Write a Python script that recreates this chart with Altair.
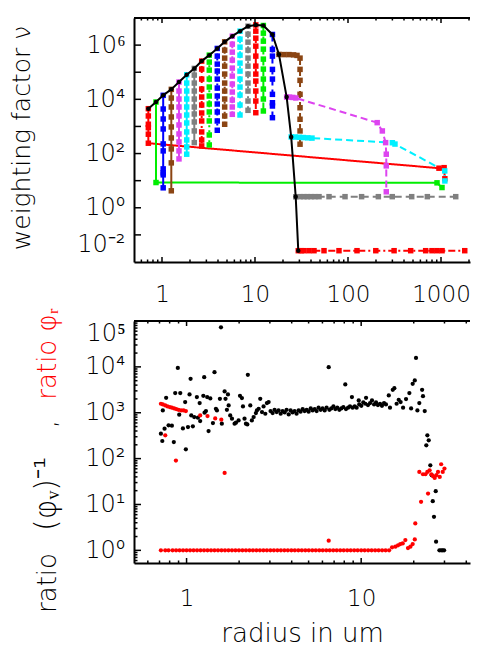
import altair as alt
import pandas as pd

FONT = "DejaVu Sans"
WEIGHT = 200

# ================= top panel: weighting factor (log10 values) =================
column_radius = [0.713, 0.862, 1.03, 1.259, 1.523, 1.844, 2.225, 2.672, 3.225, 3.93,
                 4.72, 5.70, 6.90, 8.41, 10.2, 12.3, 15.4]
w00 = [3.655, 3.386, 3.081, 2.955, 2.713, 2.381]
w01 = [3.901, 0.931]
w02 = [4.148, 3.643, 3.275, 2.907, 2.355, 2.098, 1.435, 1.288, 1.214, 0.736]
w03 = [4.368, 4.048, 3.717, 3.349, 2.981, 2.576, 2.171, 1.656, 0.626]
w04 = [4.637, 4.306, 4.011, 3.717, 3.386, 3.054, 2.723, 2.429, 2.098, 1.803]
w05 = [4.905, 4.6, 4.306, 4.011, 3.717, 3.422, 3.128, 2.797, 2.502, 2.245, 1.976]
w06 = [5.141, 4.894, 4.6, 4.306, 4.011, 3.717, 3.459, 3.165, 2.834, 2.403]
w07 = [5.41, 5.115, 4.747, 4.379, 4.085, 3.79, 3.496, 3.202, 2.797, 2.502, 2.282]
w08 = [5.63, 5.373, 5.078, 4.747, 4.453, 4.122, 3.827, 3.533, 3.202, 2.686, 2.318]
w09 = [5.877, 5.594, 5.299, 5.042, 4.747, 4.416, 4.122, 3.827, 3.533, 3.202, 2.859]
w10 = [6.12, 5.814, 5.52, 5.225, 4.931, 4.6, 4.306, 4.011, 3.717, 3.386, 3.08]
w11 = [6.33, 6.035, 5.741, 5.446, 5.152, 4.858, 4.563, 4.269, 3.974, 3.717, 3.448]
w12 = [6.514, 6.219, 5.925, 5.63, 5.336, 5.042, 4.747, 4.453, 4.158, 3.79, 3.422]
w13 = [6.698, 6.403, 6.109, 5.814, 5.52, 5.225, 4.931, 4.6, 4.306, 3.938, 3.595]
w14 = [6.745, 6.514, 6.256, 5.962, 5.594, 5.225, 4.931, 4.674, 4.306, 3.938, 3.507]
w15 = [6.723, 6.44, 6.146, 5.851, 5.483, 5.115, 4.747, 4.379, 4.011, 3.57]
w16 = [6.392, 5.84, 5.594, 5.104, 4.747, 4.184, 3.875, 3.754, 3.323]

tail00_radius = [951, 1080, 1100]
tail00_w = [1.46, 1.48, 1.07]
tail01_radius = [906, 1025]
tail01_w = [0.92, 0.747]

s17_radius = [18.1, 20.5, 23.2, 26.0, 28.3, 30.5, 30.5, 30.5, 30.5, 30.5, 30.5, 30.5, 30.5]
s17_w = [5.657, 5.65, 5.65, 5.64, 5.62, 5.52, 5.105, 4.70, 4.185, 3.69, 3.265, 2.834, 2.345]
s18_radius = [21.9, 23.5, 25.5, 27.5, 206, 234, 254, 258, 258, 258]
s18_w = [4.085, 4.08, 4.07, 4.05, 3.14, 2.834, 2.403, 1.976, 1.546, 0.589]
s19_radius = [24.5, 27, 30, 33, 37, 41, 300, 320, 1097, 1100]
s19_w = [2.613, 2.61, 2.60, 2.59, 2.58, 2.57, 2.40, 2.35, 1.36, 0.99]
s20_radius = [27.4, 30.5, 33.6, 36.5, 40, 44, 48.8, 62.5, 92.9, 140, 212, 299, 484, 713, 1440]
s20_w = [0.405, 0.41, 0.41, 0.41, 0.41, 0.41, 0.41, 0.41, 0.41, 0.41, 0.41, 0.41, 0.41, 0.41, 0.41]
s21_radius = [29.2, 31.4, 33.6, 38.1, 43.1, 55.2, 80, 125, 199, 313, 472, 684, 800, 906, 1026, 1800]
s21_w = [-1.583, -1.583, -1.583, -1.583, -1.583, -1.583, -1.583, -1.583, -1.583, -1.583,
         -1.583, -1.583, -1.583, -1.583, -1.583, -1.583]

envelope_radius = [0.713, 0.862, 1.03, 1.259, 1.523, 1.844, 2.225, 2.672, 3.225, 3.93, 4.72,
                   5.70, 6.90, 8.41, 10.2, 12.3, 15.4, 18.1, 21.9, 24.5, 27.4, 29.2]
envelope_w = [3.655, 3.901, 4.148, 4.368, 4.637, 4.905, 5.141, 5.41, 5.63, 5.877, 6.12,
              6.33, 6.514, 6.698, 6.745, 6.723, 6.392, 5.657, 4.085, 2.613, 0.405, -1.583]

series_colors = ["#ff0000", "#00ee00", "#0000ff", "#8b4513", "#dd44f0", "#00f0ff", "#808080"]
dash_styles = [[1, 0], [2, 3], [7, 4], [7, 3, 2, 3]]

# ================= bottom panel: ratios (log10 radius, log10 ratio) =================
black_points = [
    (-0.147, 2.543), (-0.139, 2.384), (-0.136, 3.051), (-0.126, 2.652), (-0.117, 3.326),
    (-0.103, 2.725), (-0.084, 2.717), (-0.073, 2.362), (-0.065, 3.428), (-0.050, 3.978),
    (-0.042, 2.957), (-0.036, 3.428), (-0.021, 2.659), (-0.008, 3.232), (-0.004, 2.203),
    (0.008, 2.688), (0.017, 3.399), (0.023, 3.739), (0.027, 2.942), (0.036, 2.703),
    (0.044, 2.906), (0.059, 3.341), (0.065, 2.891), (0.075, 3.210), (0.078, 2.819),
    (0.096, 3.370), (0.101, 3.775), (0.103, 3.000), (0.111, 3.036), (0.118, 3.341),
    (0.126, 2.601), (0.136, 3.312), (0.151, 2.775), (0.160, 3.884), (0.168, 3.087),
    (0.174, 3.051), (0.191, 3.304), (0.197, 4.862), (0.202, 2.761), (0.218, 3.464),
    (0.223, 3.304), (0.231, 3.065), (0.237, 3.399), (0.241, 3.159), (0.250, 2.942),
    (0.260, 2.870), (0.275, 2.761), (0.283, 2.783), (0.298, 2.833), (0.306, 3.370),
    (0.317, 3.319), (0.323, 3.138), (0.332, 2.870), (0.340, 2.761), (0.348, 2.746),
    (0.351, 3.826), (0.365, 3.159), (0.374, 2.833), (0.384, 2.906), (0.397, 2.993),
    (0.403, 3.051), (0.413, 3.087), (0.422, 3.304), (0.432, 3.014), (0.441, 3.138),
    (0.451, 2.978), (0.460, 3.210), (0.470, 3.232),
    (0.481, 3.036), (0.493, 2.993), (0.504, 3.065), (0.516, 3.014), (0.527, 3.051),
    (0.539, 2.978), (0.550, 3.036), (0.562, 3.007), (0.573, 3.065), (0.585, 2.964),
    (0.596, 3.051), (0.607, 3.007), (0.619, 3.036), (0.630, 2.978), (0.642, 3.051),
    (0.653, 3.022), (0.665, 3.080), (0.676, 3.036), (0.688, 3.065), (0.699, 3.022),
    (0.711, 3.094), (0.722, 3.051), (0.734, 3.080), (0.745, 3.036), (0.756, 3.109),
    (0.768, 3.065), (0.779, 3.094), (0.791, 3.051), (0.802, 3.109), (0.814, 3.993),
    (0.818, 3.065), (0.829, 3.094), (0.841, 3.138), (0.852, 3.080), (0.863, 3.109),
    (0.875, 3.065), (0.886, 3.094), (0.898, 3.123), (0.909, 3.616), (0.913, 3.080),
    (0.925, 3.109), (0.936, 3.138), (0.947, 3.341), (0.951, 3.109), (0.963, 3.138),
    (0.974, 3.109), (0.986, 3.268), (0.989, 3.181), (1.001, 3.152), (1.012, 3.225),
    (1.024, 3.196), (1.028, 3.326), (1.039, 3.167), (1.051, 3.210), (1.062, 3.268),
    (1.074, 3.181), (1.085, 3.225), (1.096, 3.167), (1.108, 3.196), (1.119, 3.152),
    (1.131, 3.210), (1.142, 3.181), (1.158, 3.377), (1.165, 3.109), (1.181, 3.500),
    (1.190, 3.536), (1.203, 3.196), (1.215, 3.283), (1.226, 3.232), (1.240, 3.109),
    (1.257, 3.297), (1.276, 3.428), (1.286, 3.094), (1.295, 3.630), (1.307, 3.703),
    (1.314, 4.196), (1.322, 3.051), (1.333, 3.210), (1.349, 3.500), (1.354, 3.362),
    (1.364, 3.036), (1.373, 2.290), (1.379, 2.507), (1.387, 2.399), (1.396, 1.855),
    (1.404, 1.638), (1.410, 1.072), (1.417, 0.732), (1.427, 1.290), (1.429, 0.188),
    (1.448, 0.0), (1.458, 0.0), (1.467, 0.0), (1.475, 0.0),
]
red_points = [
    (-0.147, 3.196), (-0.136, 3.181), (-0.122, 3.159), (-0.109, 3.138), (-0.096, 3.123),
    (-0.084, 3.109), (-0.071, 3.094), (-0.059, 3.080), (-0.046, 3.065), (-0.031, 3.051),
    (-0.017, 3.051), (-0.004, 3.036),
    (-0.122, 2.507), (-0.061, 1.957), (0.078, 2.942), (0.120, 2.928), (0.164, 2.877),
    (0.199, 2.848), (0.218, 1.688), (0.814, 0.210),
    (1.177, 0.065), (1.196, 0.080), (1.211, 0.109), (1.224, 0.138), (1.238, 0.152),
    (1.253, 0.225), (1.268, 0.051), (1.282, 0.080), (1.295, 0.138), (1.307, 0.239),
    (1.310, 0.587), (1.333, 1.710), (1.343, 1.058), (1.354, 1.659), (1.368, 1.659),
    (1.379, 1.710), (1.383, 1.239), (1.392, 1.746), (1.402, 1.659), (1.412, 1.616),
    (1.421, 1.580), (1.431, 1.638), (1.440, 1.710), (1.450, 1.601), (1.458, 1.877),
    (1.467, 1.710), (1.477, 1.783),
]
red_row_log_radius = [-0.147, -0.122, -0.103, -0.08, -0.06, -0.04, -0.02, 0.0, 0.02, 0.04,
                      0.06, 0.08, 0.10, 0.12, 0.14, 0.16, 0.18, 0.20, 0.22, 0.24, 0.26, 0.28,
                      0.30, 0.32, 0.34, 0.36, 0.38, 0.40, 0.42, 0.44, 0.46, 0.48, 0.50, 0.52,
                      0.54, 0.56, 0.58, 0.60, 0.62, 0.64, 0.66, 0.68, 0.70, 0.72, 0.74, 0.76,
                      0.78, 0.80, 0.82, 0.84, 0.86, 0.88, 0.90, 0.92, 0.94, 0.96, 0.98, 1.00,
                      1.02, 1.04, 1.06, 1.08, 1.10, 1.12, 1.14, 1.16]

# axis tick positions
top_x_labels = [1, 10, 100, 1000]
top_x_minor = [0.6, 0.7, 0.8, 0.9, 2, 3, 4, 5, 6, 7, 8, 9, 20, 30, 40, 50, 60, 70, 80, 90,
               200, 300, 400, 500, 600, 700, 800, 900, 2000]
top_y_labels = [0.01, 1, 100, 1e4, 1e6]
top_y_major = [0.1, 1, 10, 100, 1e3, 1e4, 1e5, 1e6]
bot_x_labels = [1, 10]
bot_x_minor = [0.6, 0.7, 0.8, 0.9, 2, 3, 4, 5, 6, 7, 8, 9, 20, 30, 40]
bot_y_labels = [1, 10, 100, 1e3, 1e4, 1e5]
bot_y_minor = [0.6, 0.7, 0.8, 0.9] + [m * d for d in (1, 10, 100, 1e3, 1e4) for m in range(2, 10)]

# ================= build tables =================
W, H1, H2 = 336, 244, 242
columns = [w00, w01, w02, w03, w04, w05, w06, w07, w08, w09, w10, w11, w12, w13, w14, w15, w16]
tails = {0: (tail00_radius, tail00_w), 1: (tail01_radius, tail01_w)}
horizontals = [(s17_radius, s17_w), (s18_radius, s18_w), (s19_radius, s19_w),
               (s20_radius, s20_w), (s21_radius, s21_w)]

rows = []
for i, wl in enumerate(columns):
    rr = [column_radius[i]] * len(wl)
    ww = list(wl)
    if i in tails:
        rr = rr + tails[i][0]
        ww = ww + tails[i][1]
    for k, (r, w) in enumerate(zip(rr, ww)):
        rows.append({"sid": f"s{i:02d}", "r": r, "w": 10 ** w, "k": k})
for j, (rr, ww) in enumerate(horizontals):
    for k, (r, w) in enumerate(zip(rr, ww)):
        rows.append({"sid": f"s{17 + j:02d}", "r": r, "w": 10 ** w, "k": k})
top_df = pd.DataFrame(rows)
env_df = pd.DataFrame({"r": envelope_radius, "w": [10 ** w for w in envelope_w],
                       "k": list(range(len(envelope_radius)))})

sids = [f"s{i:02d}" for i in range(22)]
colors = [series_colors[i % 7] for i in range(22)]
dashes = [dash_styles[i // 7] for i in range(22)]

black_df = pd.DataFrame({"r": [10 ** a for a, b in black_points], "v": [10 ** b for a, b in black_points]})
red_df = pd.DataFrame({"r": [10 ** a for a, b in red_points] + [10 ** a for a in red_row_log_radius],
                       "v": [10 ** b for a, b in red_points] + [1.0 for a in red_row_log_radius]})

dummy = pd.DataFrame({"a": [0]})

SUP = ("'10' + (datum.value < 0.5 ? '\u207b' : '') + substring('\u2070\u00b9\u00b2\u00b3\u2074\u2075\u2076\u2077\u2078\u2079', "
       "abs(round(log(datum.value)/LN10)), abs(round(log(datum.value)/LN10)) + 1)")

xs_top = alt.Scale(type="log", domain=[0.5, 2050], nice=False)
ys_top = alt.Scale(type="log", domain=[0.01, 1e7], nice=False)
xs_bot = alt.Scale(type="log", domain=[0.5, 42], nice=False)
ys_bot = alt.Scale(type="log", domain=[0.53, 1e5], nice=False)


def xaxis(values, pad, title=None):
    kw = dict(values=values, format="d", ticks=False, grid=False, domain=True, domainColor="black",
              domainWidth=2, labelFont=FONT, labelFontSize=23, labelFontWeight=WEIGHT,
              labelColor="black", labelPadding=pad, labelOverlap=False, labelFlush=False)
    if title:
        return alt.Axis(title=title, titleFont=FONT, titleFontSize=26, titleFontWeight=WEIGHT,
                        titleColor="black", titlePadding=10, **kw)
    return alt.Axis(title=None, **kw)


def yaxis(values, flush_offset):
    return alt.Axis(values=values, labelExpr=SUP, ticks=False, grid=False, domain=True,
                    domainColor="black", domainWidth=2, labelFont=FONT, labelFontSize=24,
                    labelFontWeight=WEIGHT, labelColor="black", labelPadding=9, labelOverlap=False,
                    labelFlush=True, labelFlushOffset=flush_offset, title=None)


AX_TOP_X = xaxis(top_x_labels, 21)
AX_TOP_Y = yaxis(top_y_labels, -6)
AX_BOT_X = xaxis(bot_x_labels, 24, "radius in um")
AX_BOT_Y = yaxis(bot_y_labels, 0)


def xticks(values, xs, ax, length, h):
    df = pd.DataFrame({"t": values})
    base = alt.Chart(df).mark_rule(color="black", strokeWidth=1.5)
    bottom = base.encode(x=alt.X("t:Q", scale=xs, axis=ax), y=alt.value(h), y2=alt.value(h - length))
    top = base.encode(x=alt.X("t:Q", scale=xs, axis=ax), y=alt.value(0), y2=alt.value(length))
    return [bottom, top]


def yticks(values, ys, ax, length):
    df = pd.DataFrame({"t": values})
    return [alt.Chart(df).mark_rule(color="black", strokeWidth=1.5).encode(
        y=alt.Y("t:Q", scale=ys, axis=ax), x=alt.value(0), x2=alt.value(length))]


def frame_top(w):
    return alt.Chart(dummy).mark_rule(color="black", strokeWidth=2).encode(
        x=alt.value(0), x2=alt.value(w), y=alt.value(0))


# ---------- top chart ----------
tx = alt.X("r:Q", scale=xs_top, axis=AX_TOP_X)
ty = alt.Y("w:Q", scale=ys_top, axis=AX_TOP_Y)
col_enc = alt.Color("sid:N", scale=alt.Scale(domain=sids, range=colors), legend=None)
lines = alt.Chart(top_df).mark_line(strokeWidth=2, clip=True).encode(
    x=tx, y=ty, color=col_enc,
    strokeDash=alt.StrokeDash("sid:N", scale=alt.Scale(domain=sids, range=dashes), legend=None),
    order="k:Q",
)
squares = alt.Chart(top_df).mark_square(size=30, opacity=1, clip=True).encode(x=tx, y=ty, color=col_enc)
env_line = alt.Chart(env_df).mark_line(color="black", strokeWidth=2, clip=True).encode(x=tx, y=ty, order="k:Q")
env_pts = alt.Chart(env_df).mark_circle(color="black", size=20, opacity=1, clip=True).encode(x=tx, y=ty)
top_title = alt.Chart(dummy).mark_text(text="weighting factor \u03bd", angle=270, align="center",
                                       baseline="alphabetic", font=FONT, fontSize=25,
                                       fontWeight=WEIGHT, color="black").encode(
    x=alt.value(-104), y=alt.value(120))

top_layers = [lines, squares, env_line, env_pts]
top_layers += xticks(top_x_labels, xs_top, AX_TOP_X, 5, H1) + xticks(top_x_minor, xs_top, AX_TOP_X, 2.5, H1)
top_layers += yticks(top_y_major, ys_top, AX_TOP_Y, 7)
top_layers += [frame_top(W), top_title]
top = alt.layer(*top_layers).properties(width=W, height=H1)

# ---------- bottom chart ----------
bx = alt.X("r:Q", scale=xs_bot, axis=AX_BOT_X)
by = alt.Y("v:Q", scale=ys_bot, axis=AX_BOT_Y)
bpts = alt.Chart(black_df).mark_circle(color="black", size=18, opacity=1, clip=True).encode(x=bx, y=by)
rpts = alt.Chart(red_df).mark_circle(color="#ff0000", size=18, opacity=1, clip=True).encode(x=bx, y=by)


def ytitle(txt, y, color, size):
    return alt.Chart(dummy).mark_text(text=txt, angle=270, align="center", baseline="alphabetic",
                                      font=FONT, fontSize=size, fontWeight=WEIGHT, color=color).encode(
        x=alt.value(-78), y=alt.value(y))


bot_layers = [bpts, rpts]
bot_layers += xticks(bot_x_labels, xs_bot, AX_BOT_X, 5, H2) + xticks(bot_x_minor, xs_bot, AX_BOT_X, 2.5, H2)
bot_layers += yticks(bot_y_labels, ys_bot, AX_BOT_Y, 7) + yticks(bot_y_minor, ys_bot, AX_BOT_Y, 3.5)
bot_layers += [frame_top(W),
               ytitle("ratio", 262, "black", 26),
               ytitle("(\u03c6\u1d65)\u207b\u00b9", 173, "black", 30),
               ytitle(",", 103, "black", 26),
               ytitle("ratio \u03c6\u1d63", 33, "#ff0000", 26)]
bottom = alt.layer(*bot_layers).properties(width=W, height=H2)

chart = alt.vconcat(top, bottom, spacing=59, bounds="flush").properties(
    padding={"left": 2, "top": 9, "right": 0, "bottom": 0}
).configure_view(stroke=None)

chart.save("out.html", embed_options={"renderer": "svg", "actions": False})
